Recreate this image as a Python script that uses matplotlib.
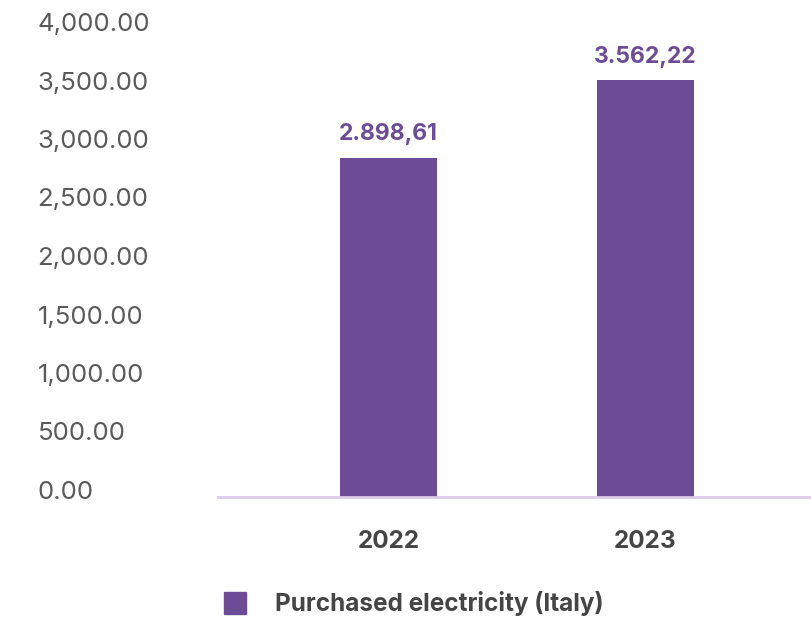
import matplotlib.pyplot as plt
import matplotlib.transforms as mtransforms
from matplotlib.patches import Rectangle

# data
years = ["2022", "2023"]
values = [2898.61, 3562.22]
value_labels = ["2.898,61", "3.562,22"]
y_ticks = [0, 500, 1000, 1500, 2000, 2500, 3000, 3500, 4000]
legend_label = "Purchased electricity (Italy)"

purple = "#6d4c97"
axis_col = "#dccbe9"
grey = "#5a5a5a"
dark = "#454545"

plt.rcParams['font.family'] = ['Inter', 'DejaVu Sans']

fig = plt.figure(figsize=(8.11, 6.18), dpi=100)
ax = fig.add_axes([218 / 811, 1 - 497 / 618, 1 - 218 / 811, (497 - 29) / 618])

x = list(range(len(years)))
ax.bar(x, values, width=0.377, color=purple, zorder=2)
ax.set_xlim(-0.663, 1.644)
ax.set_ylim(0, 4000)

for xi, v, lab in zip(x, values, value_labels):
    ax.annotate(lab, (xi, v), xytext=(0, 9), textcoords="offset points",
                ha="center", va="bottom", fontsize=16.5, fontweight="bold", color=purple)

for s in ["top", "right", "left"]:
    ax.spines[s].set_visible(False)
ax.spines["bottom"].set_color(axis_col)
ax.spines["bottom"].set_linewidth(2)

ax.set_xticks(x)
ax.set_xticklabels(years, fontsize=17.5, fontweight="bold", color=dark)
ax.tick_params(axis="x", length=0, pad=24)

ax.set_yticks(y_ticks)
ax.set_yticklabels([f"{t:,.2f}" for t in y_ticks], fontsize=18.5, color=grey)
ax.tick_params(axis="y", length=0, pad=130)
offset = mtransforms.ScaledTranslation(0, 7 / 100, fig.dpi_scale_trans)
for lbl in ax.get_yticklabels():
    lbl.set_horizontalalignment("left")
    lbl.set_transform(lbl.get_transform() + offset)

# legend
fig.patches.append(Rectangle((224 / 811, 1 - 614 / 618), 22 / 811, 22 / 618,
                             transform=fig.transFigure, color=purple))
fig.text(275 / 811, 1 - 604 / 618, legend_label, fontsize=17.5, fontweight="bold",
         color=dark, va="center", ha="left")

fig.savefig("out.png", dpi=100)
